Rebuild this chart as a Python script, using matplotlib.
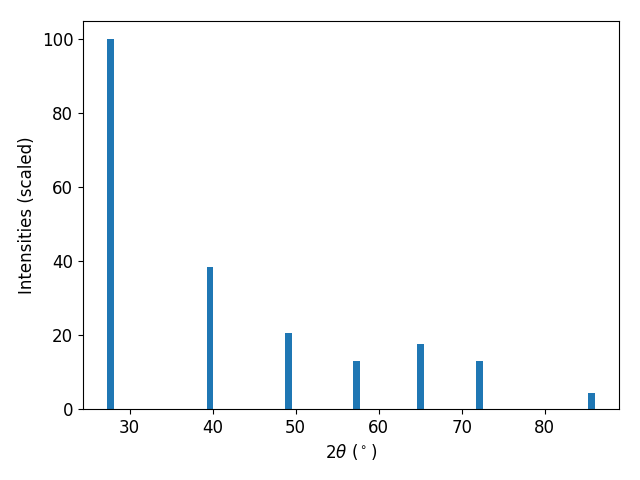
import matplotlib
matplotlib.use("Agg")
import matplotlib.pyplot as plt

two_theta = [27.73, 39.68, 49.15, 57.3, 65.0, 72.1, 85.6]
intensities = [100.0, 38.3, 20.6, 13.0, 17.7, 13.0, 4.3]

plt.rcParams['font.size'] = 12
fig, ax = plt.subplots(figsize=(6.4, 4.8), dpi=100)
ax.bar(two_theta, intensities, width=0.8, color='#1f77b4')
ax.set_xlabel(r'$2\theta$ ($^\circ$)')
ax.set_ylabel('Intensities (scaled)')
fig.subplots_adjust(left=83/640, right=619/640, top=1-21/480, bottom=1-409/480)
fig.savefig('out.png')
